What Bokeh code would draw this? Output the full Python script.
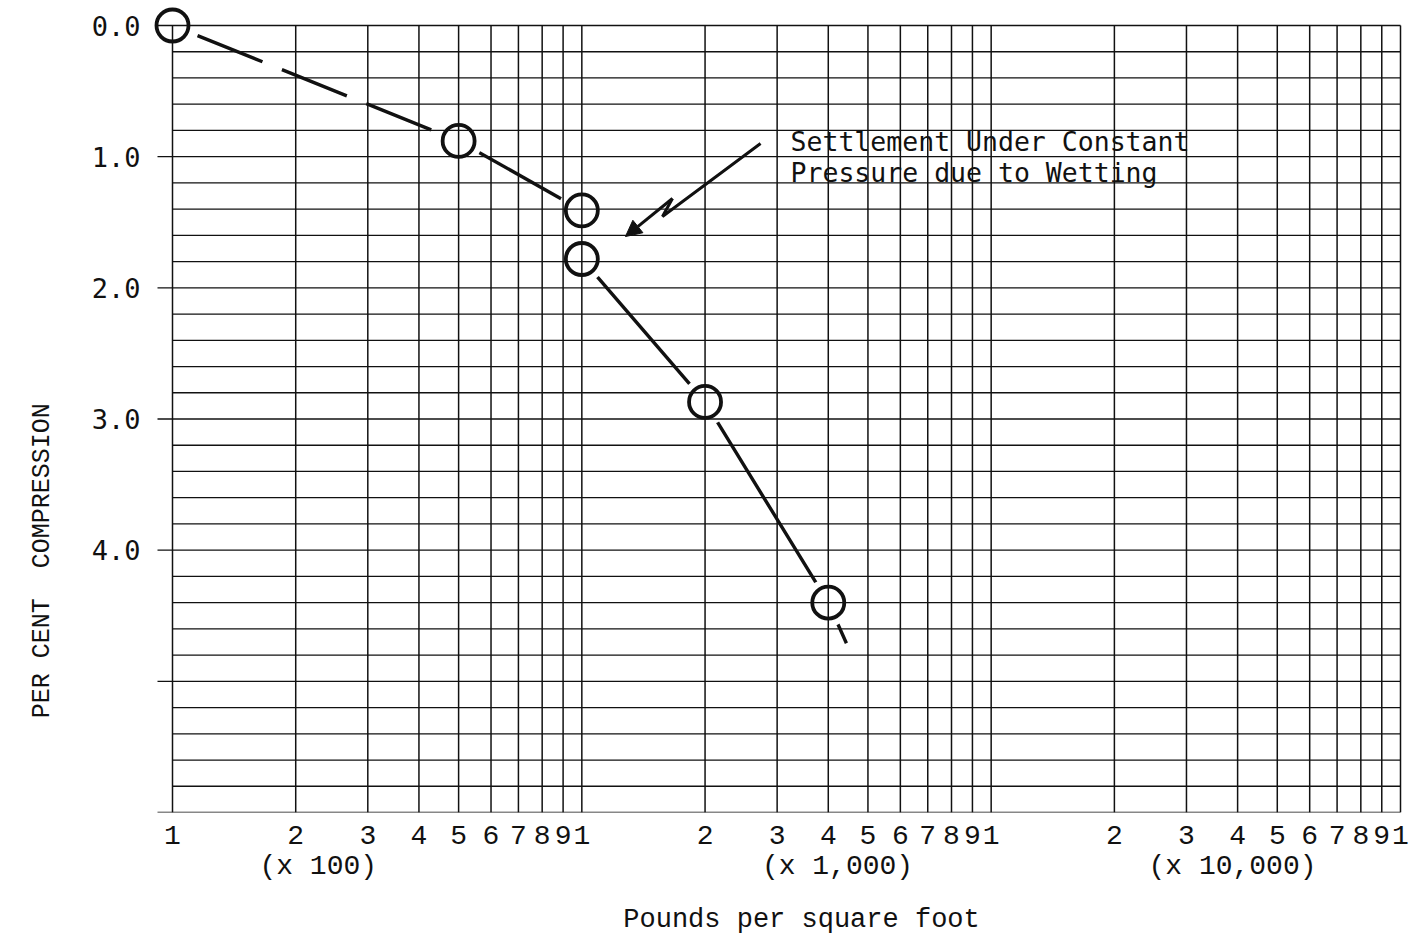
import math
from bokeh.plotting import figure
from bokeh.models import (Range1d, FixedTicker, PrintfTickFormatter, CustomJSTickFormatter,
                          Label, Arrow, NormalHead, LogAxis, LinearAxis)
from bokeh.embed import file_html
from bokeh.resources import INLINE

# ---------------- data ----------------
pressure = [100, 500, 1000, 1000, 2000, 4000]          # lb / sq ft
compression = [0.0, 0.88, 1.41, 1.78, 2.87, 4.40]      # per cent
ext_pressure = 4430                                    # curve continues past last point
ext_compression = 4.71

# annotation arrow (data coords)
arrow_path_x = [2733, 1574, 1665]
arrow_path_y = [0.90, 1.456, 1.319]
arrow_tip_x = 1278
arrow_tip_y = 1.609

x_decades = [100, 1000, 10000]
x_ticks = [m * d for d in x_decades for m in range(1, 10)] + [100000]
y_ticks = [0, 1, 2, 3, 4]
y_grid = [round(0.2 * i, 1) for i in range(31)]
y_major = [0, 1, 2, 3, 4, 5, 6]
decade_labels = ["(x 100)", "(x 1,000)", "(x 10,000)"]
decade_label_at = [227, 4213, 38870]       # pressure under which each label is centred
x_title = "Pounds per square foot"
x_title_at = 3441
y_title = "PER CENT\u00a0\u00a0COMPRESSION"
y_title_at = 2.88

# ---------------- layout ----------------
W, H = 1421, 939
PX_X0, PX_X1 = 172, 1400       # pixel of x=100 and x=100000
PX_Y0, PX_Y1 = 25, 812         # pixel of y=0 and y=6
FR_L, FR_R, FR_T, FR_B = 150, 1415, 4, 812
D = (PX_X1 - PX_X0) / 3.0
U = (PX_Y1 - PX_Y0) / 6.0

x_range = Range1d(10 ** (2 - (PX_X0 - FR_L) / D), 10 ** (5 + (FR_R - PX_X1) / D))
y_range = Range1d(6 + (FR_B - PX_Y1) / U, -(PX_Y0 - FR_T) / U)

p = figure(width=W, height=H, x_axis_type="log", x_range=x_range, y_range=y_range,
           output_backend="svg", toolbar_location=None,
           min_border_left=FR_L, min_border_right=W - FR_R,
           min_border_top=FR_T, min_border_bottom=H - FR_B)
p.outline_line_color = None
p.xgrid.visible = False
p.ygrid.visible = False
p.background_fill_color = "white"
p.border_fill_color = "white"
ink = "#111111"


def bare(ax):
    ax.axis_line_color = None
    ax.major_tick_line_color = None
    ax.minor_tick_line_color = None
    ax.major_tick_out = 0
    ax.major_tick_in = 0
    ax.minor_tick_out = 0
    ax.major_label_text_color = ink


# y axis tick labels
ya = p.yaxis[0]
ya.ticker = FixedTicker(ticks=y_ticks)
ya.formatter = PrintfTickFormatter(format="%.1f")
bare(ya)
ya.major_label_standoff = 10
ya.major_label_text_font = "DejaVu Sans Mono"
ya.major_label_text_font_size = "27px"

# y title as an outer axis with one label
yt = LinearAxis(ticker=FixedTicker(ticks=[y_title_at]),
                formatter=CustomJSTickFormatter(args=dict(t=y_title), code="return t;"))
bare(yt)
yt.major_label_orientation = math.pi / 2
yt.major_label_standoff = 46
yt.major_label_text_font = "Liberation Mono"
yt.major_label_text_font_size = "25px"
p.add_layout(yt, "left")

# x axis digits
xa = p.xaxis[0]
xa.ticker = FixedTicker(ticks=x_ticks)
xa.formatter = CustomJSTickFormatter(code="return String(Math.round(tick)).charAt(0);")
bare(xa)
xa.major_label_standoff = 13
xa.major_label_text_font = "Liberation Mono"
xa.major_label_text_font_size = "28px"

# decade multipliers
xd = LogAxis(ticker=FixedTicker(ticks=decade_label_at),
             formatter=CustomJSTickFormatter(args=dict(labels=decade_labels),
                                             code="return labels[index];"))
bare(xd)
xd.major_label_standoff = 4
xd.major_label_text_font = "Liberation Mono"
xd.major_label_text_font_size = "28px"
p.add_layout(xd, "below")

# x title
xt = LogAxis(ticker=FixedTicker(ticks=[x_title_at]),
             formatter=CustomJSTickFormatter(args=dict(t=x_title), code="return t;"))
bare(xt)
xt.major_label_standoff = 20
xt.major_label_text_font = "Liberation Mono"
xt.major_label_text_font_size = "27px"
p.add_layout(xt, "below")

# ---------------- curve ----------------
p.line(pressure[0:2], compression[0:2], line_color=ink, line_width=3.4,
       line_dash="70 21", line_dash_offset=64)
p.line(pressure[1:3], compression[1:3], line_color=ink, line_width=3.4)
p.line(pressure[3:] + [ext_pressure], compression[3:] + [ext_compression],
       line_color=ink, line_width=3.4)

# white halos make the gaps around the plotted points
p.scatter(pressure, compression, marker="circle", size=48, fill_color="white",
          line_color=None)
p.scatter(pressure, compression, marker="circle", size=32, fill_alpha=0,
          line_color=ink, line_width=3.8)

# ---------------- graph-paper grid (drawn on top) ----------------
grid_col = "#111111"
p.segment(x0=x_ticks, y0=[0] * len(x_ticks), x1=x_ticks, y1=[6] * len(x_ticks),
          line_color=grid_col, line_width=1.5)
x_left_tick = 10 ** (2 - 15 / D)
p.segment(x0=[x_left_tick if v in y_major else 100 for v in y_grid], y0=y_grid,
          x1=[100000] * len(y_grid), y1=y_grid, line_color=grid_col, line_width=1.3)

# ---------------- annotation ----------------
p.line(arrow_path_x, arrow_path_y, line_color=ink, line_width=3)
p.add_layout(Arrow(end=NormalHead(size=16, fill_color=ink, line_color=ink),
                   x_start=arrow_path_x[-1], y_start=arrow_path_y[-1],
                   x_end=arrow_tip_x, y_end=arrow_tip_y, line_color=ink, line_width=3))

for txt, yy in [("Settlement Under Constant", 0.884), ("Pressure due to Wetting", 1.12)]:
    p.add_layout(Label(x=3235, y=yy, text=txt, text_font="DejaVu Sans Mono",
                       text_font_size="26.5px", text_color=ink, text_baseline="alphabetic",
                       text_align="left"))

open("out.html", "w").write(file_html(p, INLINE))
